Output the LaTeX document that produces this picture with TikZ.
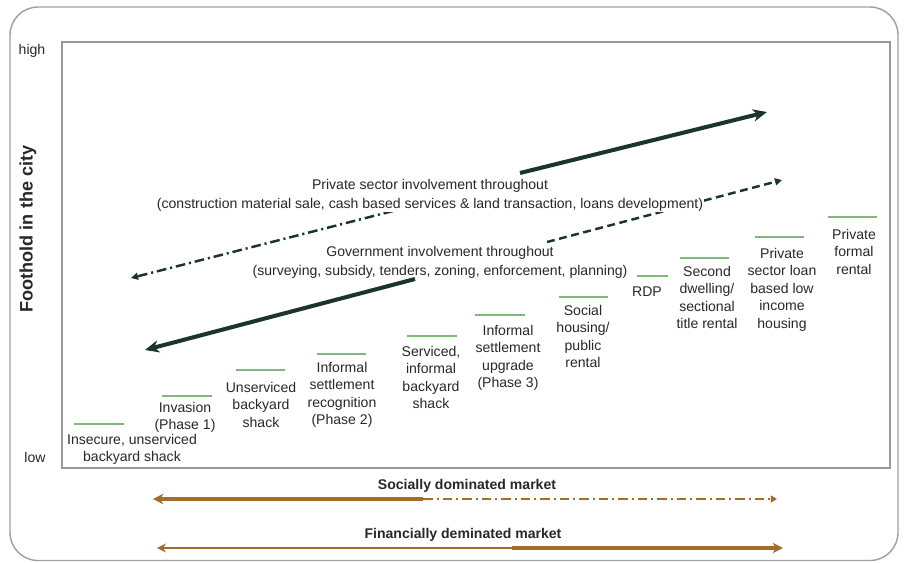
\documentclass[tikz,border=0pt]{standalone}
\usepackage{fontspec}
\setmainfont{Liberation Sans}
\usetikzlibrary{arrows.meta}

\definecolor{arrowdark}{RGB}{28,52,46}
\definecolor{tickgreen}{RGB}{128,186,120}
\definecolor{marketbrown}{RGB}{163,108,42}
\definecolor{labelgray}{RGB}{40,40,40}

\tikzset{
  stage/.style={anchor=north, inner sep=0pt, align=center, text=labelgray,
    font=\fontsize{8}{9.9}\selectfont},
  tick/.style={draw=tickgreen, line width=1.1pt},
  involve/.style={anchor=north, inner sep=0.6pt, align=center,
    text=labelgray, font=\fontsize{8}{10.6}\selectfont},
  market/.style={anchor=base, inner sep=0pt, text=labelgray,
    font=\bfseries\fontsize{8}{9.6}\selectfont},
  axislabel/.style={inner sep=0pt, text=labelgray, font=\fontsize{8}{9.6}\selectfont},
  bigtrend/.style={draw=arrowdark, line width=2.3pt,
    -{Stealth[length=8pt,width=7pt,inset=2.5pt]}},
  smalltrend/.style={draw=arrowdark, line width=1.4pt,
    -{Triangle[length=4pt,width=4pt]}},
  marketline/.style={draw=marketbrown}
}

\begin{document}
\begin{tikzpicture}[x=0.02cm, y=-0.02cm]
  \useasboundingbox (0,0) rectangle (906,562);

  % outer box and plot frame
  \draw[gray!75, line width=0.8pt, rounded corners=0.56cm] (10,7) rectangle (898,560.5);
  \draw[gray!80, line width=1.2pt] (62,42) rectangle (890,468);

  % axis
  \node[axislabel, anchor=base] (high) at (32,54.5) {high};
  \node[axislabel, anchor=base] (low) at (35,462) {low};
  \node[inner sep=0pt, rotate=90, text=labelgray, font=\bfseries\fontsize{10.3}{12}\selectfont]
    (foothold) at (28,229) {Foothold in the city};

  % trend arrows
  \coordinate (privtail) at (520,173);
  \coordinate (privhead) at (767,112);
  \coordinate (privbacktail) at (393,211);
  \coordinate (privbackhead) at (131,278);
  \coordinate (govtail) at (547,242);
  \coordinate (govhead) at (782,180);
  \coordinate (govbacktail) at (415,279);
  \coordinate (govbackhead) at (145,350);
  \draw[bigtrend] (privtail) -- (privhead);
  \draw[bigtrend] (govbacktail) -- (govbackhead);
  \draw[smalltrend, dash pattern=on 5.5pt off 2.2pt on 1.2pt off 2.2pt] (privbacktail) -- (privbackhead);
  \draw[smalltrend, dash pattern=on 4.5pt off 2.6pt] (govtail) -- (govhead);

  \node[involve, fill=white] (priv) at (430,178) {Private sector involvement throughout\\
    (construction material sale, cash based services \& land transaction, loans development)};
  \node[involve] (gov) at (440,245) {Government involvement throughout\\
    (surveying, subsidy, tenders, zoning, enforcement, planning)};

  % housing stages
  \draw[tick] (74,424) -- (124,424);
  \node[stage] (insecure) at (132,434) {Insecure, unserviced\\backyard shack};
  \draw[tick] (162,396) -- (212,396);
  \node[stage] (invasion) at (185,402) {Invasion\\(Phase 1)};
  \draw[tick] (236,370) -- (285,370);
  \node[stage] (unserviced) at (261,382) {Unserviced\\backyard\\shack};
  \draw[tick] (317,354) -- (366,354);
  \node[stage] (recognition) at (342,362) {Informal\\settlement\\recognition\\(Phase 2)};
  \draw[tick] (407,336) -- (457,336);
  \node[stage] (serviced) at (431,346) {Serviced,\\informal\\backyard\\shack};
  \draw[tick] (475,315) -- (525,315);
  \node[stage] (upgrade) at (508,325) {Informal\\settlement\\upgrade\\(Phase 3)};
  \draw[tick] (559,297) -- (608,297);
  \node[stage] (social) at (583,305) {Social\\housing/\\public\\rental};
  \draw[tick] (637,276) -- (668,276);
  \node[stage] (rdp) at (647,286) {RDP};
  \draw[tick] (680,258) -- (729,258);
  \node[stage] (second) at (707,266) {Second\\dwelling/\\sectional\\title rental};
  \draw[tick] (755,237) -- (804,237);
  \node[stage] (loan) at (782,248) {Private\\sector loan\\based low\\income\\housing};
  \draw[tick] (828,217) -- (877,217);
  \node[stage] (formal) at (854,229) {Private\\formal\\rental};

  % markets
  \node[market] (social market) at (467,489.5) {Socially dominated market};
  \coordinate (socleft) at (153,499);
  \coordinate (socmid) at (423,499);
  \coordinate (socright) at (777,499);
  \draw[marketline, line width=2.3pt, -{Stealth[length=6pt,width=6pt,inset=2pt]}] (socmid) -- (socleft);
  \draw[marketline, line width=1.4pt, dash pattern=on 5.5pt off 2.2pt on 1.2pt off 2.2pt,
    -{Triangle[length=3.5pt,width=4pt]}] (socmid) -- (socright);

  \node[market] (financial market) at (463,538.5) {Financially deminated market};
  \coordinate (finleft) at (157,548);
  \coordinate (finmid) at (512,548);
  \coordinate (finright) at (783,548);
  \draw[marketline, line width=1.2pt, -{Stealth[length=5pt,width=5pt,inset=1.5pt]}] (finmid) -- (finleft);
  \draw[marketline, line width=2.3pt, -{Stealth[length=6pt,width=6pt,inset=2pt]}] (finmid) -- (finright);
\end{tikzpicture}
\end{document}
